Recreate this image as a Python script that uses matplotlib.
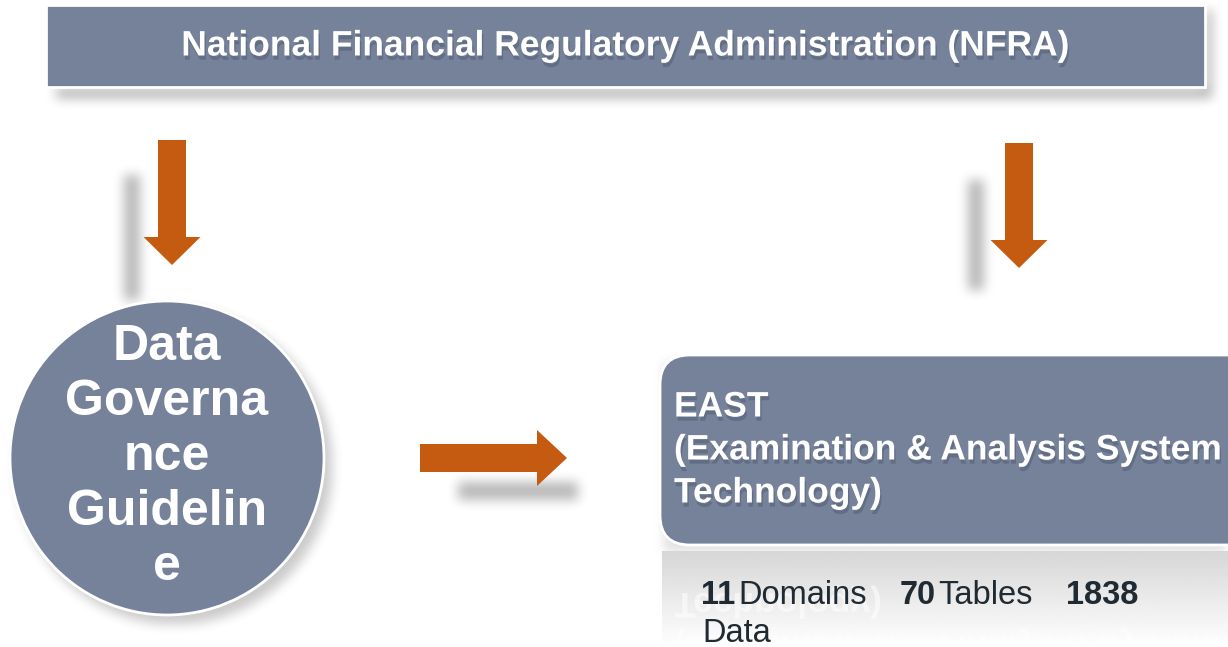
import numpy as np
import matplotlib
matplotlib.use("Agg")
import matplotlib.pyplot as plt
import matplotlib.patheffects as pe
from matplotlib.patches import Rectangle, FancyBboxPatch, Circle, FancyArrow, PathPatch
from matplotlib.textpath import TextPath
from matplotlib.font_manager import FontProperties
from matplotlib.transforms import Affine2D

plt.rcParams['font.family'] = ['Liberation Sans', 'DejaVu Sans']

# diagram content
top_label = "National Financial Regulatory Administration (NFRA)"
circle_lines = ["Data", "Governa", "nce", "Guidelin", "e"]
east_lines = ["EAST", "(Examination & Analysis System", "Technology)"]
stat_numbers = ["11", "70", "1838"]
stat_words = ["Domains", "Tables"]
stat_tail = "Data"
box_color = "#76829a"
arrow_color = "#c55a11"
stat_color = "#1f2a33"

W, H = 1228, 647
fig = plt.figure(figsize=(W / 100, H / 100), dpi=100)
ax = fig.add_axes([0, 0, 1, 1])
ax.set_xlim(0, W)
ax.set_ylim(H, 0)
ax.axis("off")

# blurred drop shadows, painted into one mask and smoothed
mask = np.zeros((H, W))
yy, xx = np.mgrid[0:H, 0:W]
mask[88:98, 56:1212] = 0.9          # under the banner
mask[10:95, 1205:1212] = 0.9        # right of the banner
mask[175:300, 124:140] = 0.8        # left down arrow
mask[180:290, 968:984] = 0.8        # right down arrow
mask[482:500, 458:578] = 0.8        # right arrow
mask[((xx - 174) ** 2 + (yy - 466) ** 2) < 158 ** 2] = 0.6
mask[362:552, 664:W] = 0.35


def box_blur(a, r):
    k = np.ones(2 * r + 1) / (2 * r + 1)
    a = np.apply_along_axis(lambda v: np.convolve(v, k, mode="same"), 0, a)
    a = np.apply_along_axis(lambda v: np.convolve(v, k, mode="same"), 1, a)
    return a


for _ in range(3):
    mask = box_blur(mask, 5)
shadow = np.zeros((H, W, 4))
shadow[..., 3] = np.clip(mask, 0, 1) * 0.35
ax.imshow(shadow, extent=(0, W, H, 0), aspect="auto", zorder=1,
          interpolation="bilinear")

# reflection under the EAST box (gradient + mirrored text)
grad = np.linspace(0.84, 1.0, 100).reshape(-1, 1)
ax.imshow(np.repeat(grad, 2, axis=1), cmap="gray", vmin=0, vmax=1,
          extent=(662, W, H, 551), aspect="auto", zorder=1.5)
bold = FontProperties(family="Liberation Sans", weight="bold")
fs_px = 25.5 * 100 / 72
for line, base in [(east_lines[2], 503), (east_lines[1], 460)]:
    tp = TextPath((0, 0), line, size=fs_px, prop=bold)
    # y axis points down, so the path comes out mirrored
    tr = Affine2D().translate(674, 2 * 548 - base) + ax.transData
    ax.add_patch(PathPatch(tp, transform=tr, facecolor="white", lw=0,
                           alpha=0.55, zorder=1.8))

txt_fx = [pe.withSimplePatchShadow(offset=(1, -3), shadow_rgbFace="#2a3348",
                                   alpha=0.25)]

# top banner
ax.add_patch(Rectangle((46, 5), 1159, 82, facecolor=box_color,
                       edgecolor="white", lw=2, zorder=2))
ax.text(625, 46, top_label, color="white", fontsize=25.5, fontweight="bold",
        ha="center", va="center", zorder=3, path_effects=txt_fx)

# down arrows
for xc, y0 in [(172, 140), (1019, 143)]:
    ax.add_patch(FancyArrow(xc, y0, 0, 125, width=28, head_width=57,
                            head_length=28, length_includes_head=True,
                            color=arrow_color, lw=0, zorder=3))

# right arrow
ax.add_patch(FancyArrow(420, 458, 147, 0, width=28, head_width=56,
                        head_length=30, length_includes_head=True,
                        color=arrow_color, lw=0, zorder=3))

# circle
ax.add_patch(Circle((167, 458), 157, facecolor=box_color, edgecolor="white",
                    lw=2, zorder=2))
for i, line in enumerate(circle_lines):
    ax.text(167, 347 + i * 55, line, color="white", fontsize=36,
            fontweight="bold", ha="center", va="center", zorder=3)

# EAST box
ax.add_patch(FancyBboxPatch((660, 355), 600, 190,
                            boxstyle="round,pad=0,rounding_size=30",
                            facecolor=box_color, edgecolor="white", lw=2,
                            zorder=2))
for i, line in enumerate(east_lines):
    ax.text(674, 407 + i * 43, line, color="white", fontsize=25.5,
            fontweight="bold", ha="left", va="center", zorder=3,
            path_effects=txt_fx)

# statistics under the box
num_x = [701, 900, 1066]
word_x = [738, 938]
for x, num in zip(num_x, stat_numbers):
    ax.text(x, 596, num, color=stat_color, fontsize=23.5, fontweight="bold",
            ha="left", va="center", zorder=3)
for x, word in zip(word_x, stat_words):
    ax.text(x, 596, word, color=stat_color, fontsize=23.5,
            ha="left", va="center", zorder=3)
ax.text(702, 633, stat_tail, color=stat_color, fontsize=23.5, ha="left",
        va="center", zorder=3)

fig.savefig("out.png", dpi=100)
